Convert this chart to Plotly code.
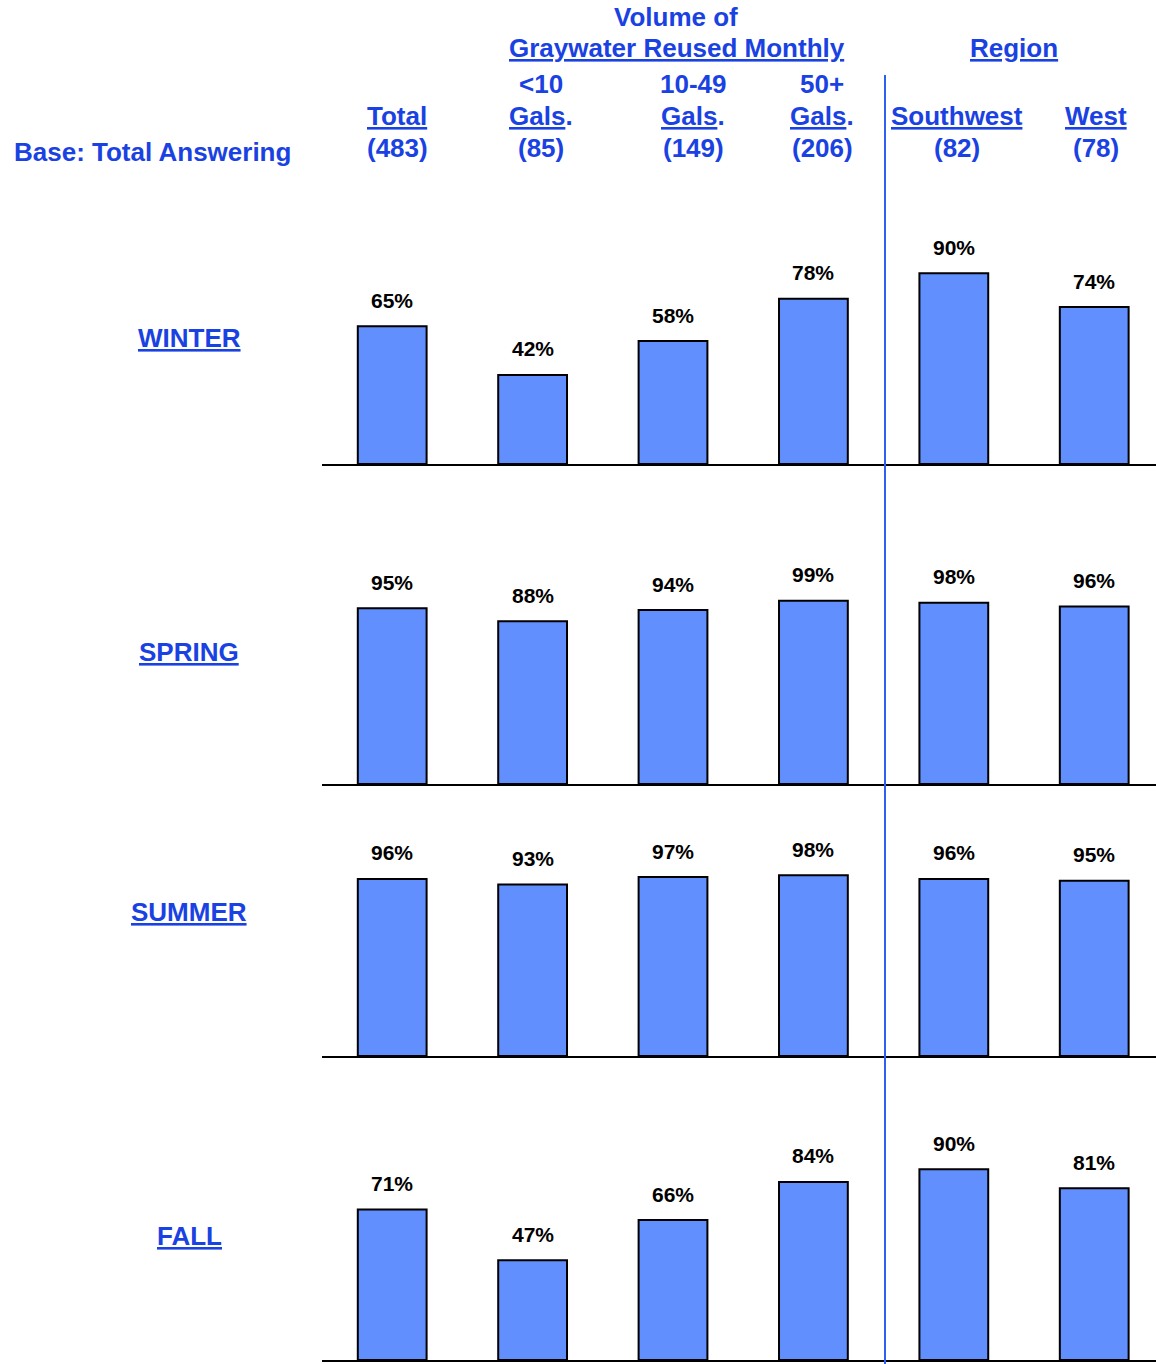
import plotly.graph_objects as go

# ---- data ----
seasons = ["WINTER", "SPRING", "SUMMER", "FALL"]
columns = ["Total", "<10 Gals.", "10-49 Gals.", "50+ Gals.", "Southwest", "West"]
col_line1 = ["", "<10", "10-49", "50+", "", ""]
col_line2 = ["Total", "Gals", "Gals", "Gals", "Southwest", "West"]
col_line2_suffix = ["", ".", ".", ".", "", ""]
bases = [483, 85, 149, 206, 82, 78]
winter = [65, 42, 58, 78, 90, 74]
spring = [95, 88, 94, 99, 98, 96]
summer = [96, 93, 97, 98, 96, 95]
fall = [71, 47, 66, 84, 90, 81]
season_values = [winter, spring, summer, fall]

# ---- layout geometry (reference pixels) ----
W, H = 1156, 1364
BLUE = "#1a42e2"
BAR = "#618ffe"
FONT = "Liberation Sans, Arial, sans-serif"
baselines = [464, 784, 1056, 1360]
full_heights = [212, 185, 184.5, 212]
season_label_y = [338, 652, 912, 1236]
col_x = [397, 541, 693, 822, 957, 1096]


def px(x):
    return x / W


def py(y):
    return 1 - y / H


fig = go.Figure()
annotations = []

for i, (season, vals) in enumerate(zip(seasons, season_values)):
    ax = "" if i == 0 else str(i + 1)
    fig.add_trace(go.Bar(
        x=columns, y=vals, xaxis="x" + ax, yaxis="y" + ax,
        width=0.49,
        marker=dict(color=BAR, line=dict(color="black", width=2)),
        hoverinfo="skip", showlegend=False,
    ))
    for c, v in zip(columns, vals):
        annotations.append(dict(
            x=c, y=v, xref="x" + ax, yref="y" + ax, text=f"<b>{v}%</b>",
            showarrow=False, yanchor="middle", yshift=26,
            font=dict(size=21, color="black", family=FONT),
        ))
    b = baselines[i]
    top = b - full_heights[i]
    fig.layout["xaxis" + ax] = dict(
        domain=[px(322), 1], type="category", range=[-0.5, 5.44],
        showline=True, linecolor="black", linewidth=2,
        showticklabels=False, ticks="", showgrid=False, zeroline=False,
        anchor="y" + ax, fixedrange=True,
    )
    fig.layout["yaxis" + ax] = dict(
        domain=[py(b), py(top)], range=[0, 100], visible=False,
        showgrid=False, zeroline=False, anchor="x" + ax, fixedrange=True,
    )
    annotations.append(dict(
        x=px(189), y=py(season_label_y[i]), xref="paper", yref="paper",
        text=f"<b><u>{season}</u></b>", showarrow=False,
        xanchor="center", yanchor="middle",
        font=dict(size=26, color=BLUE, family=FONT),
    ))


def header(text, x, y):
    annotations.append(dict(
        x=px(x), y=py(y), xref="paper", yref="paper", text=f"<b>{text}</b>",
        showarrow=False, xanchor="center", yanchor="middle",
        font=dict(size=26, color=BLUE, family=FONT),
    ))


for j in range(len(columns)):
    if col_line1[j]:
        header(col_line1[j], col_x[j], 84)
    header(f"<u>{col_line2[j]}</u>{col_line2_suffix[j]}", col_x[j], 116)
    header(f"({bases[j]})", col_x[j], 148)

header("Volume of", 676, 17)
header("<u>Graywater Reused Monthly</u>", 677, 48)
header("<u>Region</u>", 1014, 48)
header("Base: Total Answering", 152, 152)

fig.add_shape(type="line", xref="paper", yref="paper",
              x0=px(885), x1=px(885), y0=0, y1=py(75),
              line=dict(color="#2d5ff0", width=2))

fig.update_layout(
    width=W, height=H, margin=dict(l=0, r=0, t=0, b=0),
    paper_bgcolor="white", plot_bgcolor="rgba(0,0,0,0)",
    annotations=annotations, bargap=0.3,
)

fig.write_html(
    "out.html",
    config={"displayModeBar": False, "staticPlot": True},
    post_script="document.body.style.margin='0';document.body.style.overflow='hidden';",
)
